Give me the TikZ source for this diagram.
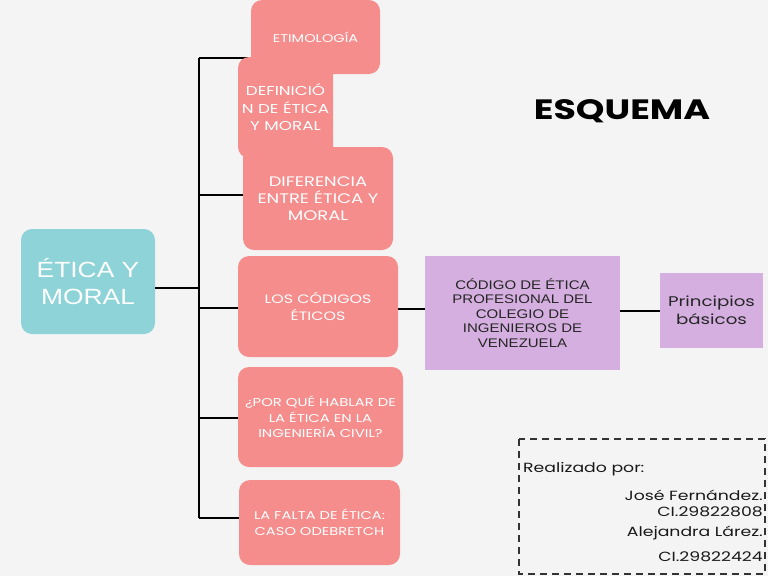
\documentclass[tikz,border=0pt]{standalone}
\usepackage{fontspec}
\setmainfont{Poppins}
\newfontfamily\widef[FakeStretch=1.3]{Poppins}
\newfontfamily\arialw[FakeStretch=1.2]{Liberation Sans}
\definecolor{bgc}{HTML}{F4F4F4}
\definecolor{pinkc}{HTML}{F58D8D}
\definecolor{tealc}{HTML}{8DD3D8}
\definecolor{purpc}{HTML}{D4AFDF}
\begin{document}
\begin{tikzpicture}[x=1pt,y=-1pt,
  pinkbox/.style={fill=pinkc, rounded corners=11pt, text=white, align=center, inner sep=0pt},
  tealbox/.style={fill=tealc, rounded corners=11pt, text=white, align=center, inner sep=0pt},
  purpbox/.style={fill=purpc, text=black!85, align=center, inner sep=0pt},
  credit/.style={inner sep=0pt, font=\widef\fontsize{13.3}{16}\selectfont, text=black!90},
  conn/.style={line width=1.5pt, black}]
\fill[bgc] (0,0) rectangle (768,576);
\useasboundingbox (0,0) rectangle (768,576);
% trunk coordinates
\coordinate (t1) at (199,58);
\coordinate (t2) at (199,195);
\coordinate (t3) at (199,288);
\coordinate (t4) at (199,308);
\coordinate (t5) at (199,418);
\coordinate (t6) at (199,518);
% nodes
\node[tealbox, minimum width=134pt, minimum height=105pt, font=\arialw\fontsize{22}{27}\selectfont] (etica) at (88,281.5) {ÉTICA Y\\MORAL};
\node[purpbox, minimum width=195pt, minimum height=114pt, font=\arialw\fontsize{12.5}{14.5}\selectfont] (codigo) at (522.5,313) {CÓDIGO DE ÉTICA\\PROFESIONAL DEL\\COLEGIO DE\\INGENIEROS DE\\VENEZUELA};
\node[purpbox, minimum width=103pt, minimum height=75pt, font=\widef\fontsize{14}{18}\selectfont] (princ) at (711.5,310.5) {Principios\\básicos};
% connectors (drawn before pink boxes)
\draw[conn] (t1) -- (t6);
\draw[conn] (etica.east |- t3) -- (t3);
\draw[conn] (t1) -- (251,58) coordinate (e1);
\draw[conn] (t2) -- (243,195) coordinate (e2);
\draw[conn] (t4) -- (238,308) coordinate (e3);
\draw[conn] (t5) -- (238,418) coordinate (e4);
\draw[conn] (t6) -- (239,518) coordinate (e5);
\draw[conn] (398,309) -- (codigo.west |- 0,309);
\draw[conn] (codigo.east |- 0,311) -- (princ.west |- 0,311);
% pink boxes
\node[pinkbox, minimum width=129pt, minimum height=74pt, font=\widef\fontsize{11.2}{13}\selectfont] (etim) at (315.5,37) {ETIMOLOGÍA};
\node[pinkbox, minimum width=95pt, minimum height=101pt, font=\widef\fontsize{12.9}{17.5}\selectfont] (defin) at (285.5,107.5) {DEFINICIÓ\\N DE ÉTICA\\Y MORAL};
\node[pinkbox, minimum width=150pt, minimum height=103pt, font=\widef\fontsize{13.8}{17}\selectfont] (difer) at (318,198.5) {DIFERENCIA\\ENTRE ÉTICA Y\\MORAL};
\node[pinkbox, minimum width=160pt, minimum height=101pt, font=\widef\fontsize{12.2}{16.5}\selectfont] (codigos) at (318,306.5) {LOS CÓDIGOS\\ÉTICOS};
\node[pinkbox, minimum width=165pt, minimum height=100pt, font=\widef\fontsize{11.4}{15.5}\selectfont] (porque) at (320.5,417) {¿POR QUÉ HABLAR DE\\LA ÉTICA EN LA\\INGENIERÍA CIVIL?};
\node[pinkbox, minimum width=161pt, minimum height=85pt, font=\widef\fontsize{11.3}{15.5}\selectfont] (falta) at (319.5,522.5) {LA FALTA DE ÉTICA:\\CASO ODEBRETCH};
% title
\node[font=\widef\fontsize{28}{32}\selectfont\bfseries, text=black, inner sep=0pt] (title) at (622,111) {ESQUEMA};
% credits
\draw[line width=2pt, black!80, dash pattern=on 7pt off 5pt] (519,439) rectangle (765,574);
\node[credit, anchor=base west] (real) at (523,472) {Realizado por:};
\node[credit, anchor=base east] (n1) at (763,500) {José Fernández.};
\node[credit, anchor=base east] (c1) at (763,516) {CI.29822808};
\node[credit, anchor=base east] (n2) at (763,536) {Alejandra Lárez.};
\node[credit, anchor=base east] (c2) at (763,561) {CI.29822424};
\end{tikzpicture}
\end{document}
